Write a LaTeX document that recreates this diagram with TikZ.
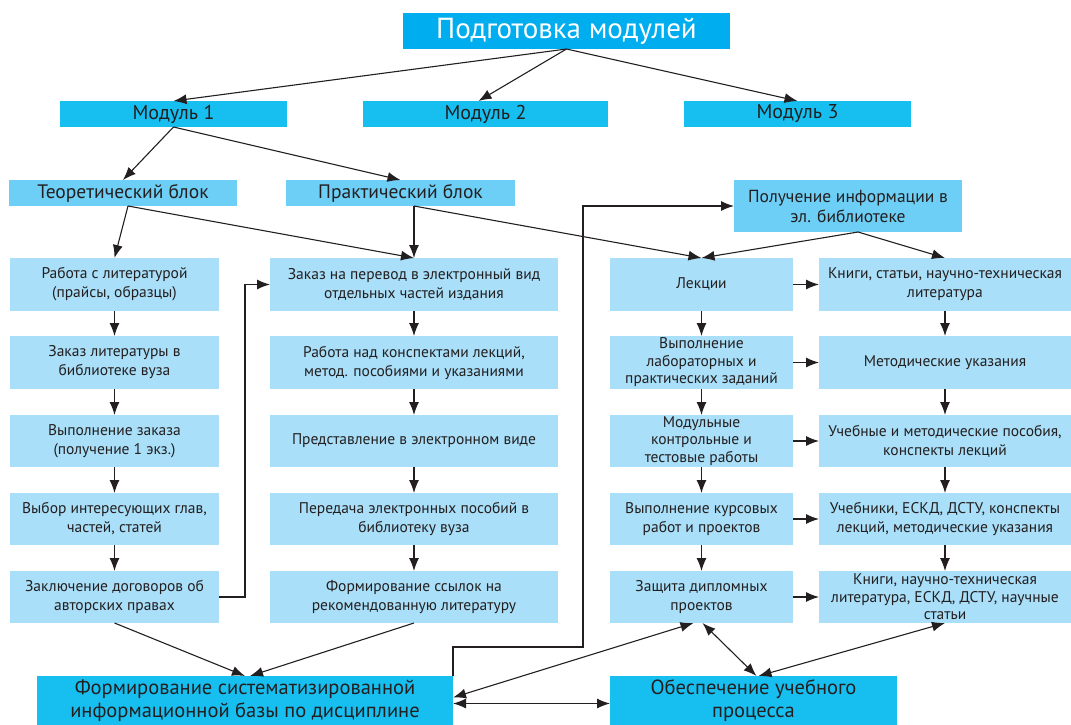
\documentclass[tikz,border=0pt]{standalone}
\usepackage{fontspec}
\setmainfont{PT Sans}
\usetikzlibrary{arrows.meta,calc}
\definecolor{cTitle}{HTML}{00AEEF}
\definecolor{cMod}{HTML}{17BFF0}
\definecolor{cBlock}{HTML}{6DCFF6}
\definecolor{cStep}{HTML}{A9DFF8}
\definecolor{cInk}{HTML}{231F20}
\newcommand\mybox[7]{\node[#1, anchor=north west, minimum width={(#4)-(#2)}, minimum height={(#5)-(#3)}] (#6) at (#2,#3) {#7};}
\begin{document}
\begin{tikzpicture}[x=1pt,y=-1pt,
  basebox/.style={inner sep=0pt, outer sep=0pt, align=center, text=cInk},
  titlebox/.style={basebox, fill=cTitle, text=white, font=\fontsize{29}{32}\selectfont},
  modbox/.style={basebox, fill=cMod, font=\fontsize{20}{22}\selectfont},
  blockbox/.style={basebox, fill=cBlock, font=\fontsize{19.5}{22}\selectfont},
  infobox/.style={basebox, fill=cBlock, font=\fontsize{17.5}{20}\selectfont},
  stepbox/.style={basebox, fill=cStep, font=\fontsize{15.5}{19}\selectfont},
  widebox/.style={basebox, fill=cStep, font=\fontsize{15.5}{17.5}\selectfont},
  bigbox/.style={basebox, fill=cMod, font=\fontsize{20.5}{23.5}\selectfont},
  arr/.style={draw=cInk, line width=1.1pt, -{Latex[length=13pt,width=10pt]}},
  darr/.style={draw=cInk, line width=1.1pt, {Latex[length=13pt,width=10pt]}-{Latex[length=13pt,width=10pt]}},
  ln/.style={draw=cInk, line width=1.1pt}
]
\useasboundingbox (0,0) rectangle (1071,725);

\mybox{titlebox}{403}{13}{730}{49}{title}{Подготовка модулей}
\mybox{modbox}{60}{101}{287}{127}{m1}{Модуль 1}
\mybox{modbox}{363}{101}{608}{127}{m2}{Модуль 2}
\mybox{modbox}{684}{101}{911}{127}{m3}{Модуль 3}

\mybox{blockbox}{9}{180}{237}{206}{teor}{Теоретический блок}
\mybox{blockbox}{286}{180}{515}{206}{prak}{Практический блок}
\mybox{infobox}{734}{180}{962}{232}{poluch}{Получение информации в\\эл. библиотеке}

% left column
\mybox{stepbox}{10}{258}{219}{311}{L1}{Работа с литературой\\(прайсы, образцы)}
\mybox{stepbox}{10}{336}{219}{389}{L2}{Заказ литературы в\\библиотеке вуза}
\mybox{stepbox}{10}{415}{219}{467}{L3}{Выполнение заказа\\(получение 1 экз.)}
\mybox{stepbox}{10}{493}{219}{545}{L4}{Выбор интересующих глав,\\частей, статей}
\mybox{stepbox}{10}{571}{219}{623}{L5}{Заключение договоров об\\авторских правах}

% middle column
\mybox{stepbox}{270}{258}{558}{311}{M1}{Заказ на перевод в электронный вид\\отдельных частей издания}
\mybox{stepbox}{270}{336}{558}{389}{M2}{Работа над конспектами лекций,\\метод. пособиями и указаниями}
\mybox{stepbox}{270}{415}{558}{467}{M3}{Представление в электронном виде}
\mybox{stepbox}{270}{493}{558}{545}{M4}{Передача электронных пособий в\\библиотеку вуза}
\mybox{stepbox}{270}{571}{558}{623}{M5}{Формирование ссылок на\\рекомендованную литературу}

% right column 1
\mybox{stepbox}{610}{258}{793}{311}{R1}{Лекции}
\mybox{widebox}{610}{336}{793}{389}{R2}{Выполнение\\лабораторных и\\практических заданий}
\mybox{widebox}{610}{415}{793}{467}{R3}{Модульные\\контрольные и\\тестовые работы}
\mybox{stepbox}{610}{493}{793}{545}{R4}{Выполнение курсовых\\работ и проектов}
\mybox{stepbox}{610}{571}{793}{623}{R5}{Защита дипломных\\проектов}

% right column 2
\mybox{stepbox}{819}{258}{1071}{311}{S1}{Книги, статьи, научно-техническая\\литература}
\mybox{stepbox}{819}{336}{1071}{389}{S2}{Методические указания}
\mybox{stepbox}{819}{415}{1071}{467}{S3}{Учебные и методические пособия,\\конспекты лекций}
\mybox{stepbox}{819}{493}{1071}{545}{S4}{Учебники, ЕСКД, ДСТУ, конспекты\\лекций, методические указания}
\mybox{widebox}{819}{571}{1071}{623}{S5}{Книги, научно-техническая\\литература, ЕСКД, ДСТУ, научные\\статьи}

% bottom
\mybox{bigbox}{37}{676}{453}{725}{form}{Формирование систематизированной\\информационной базы по дисциплине}
\mybox{bigbox}{610}{676}{897}{725}{obes}{Обеспечение учебного\\процесса}

% top arrows
\draw[arr] (title.south) -- (m1.north);
\draw[arr] (title.south) -- ($(m2.north)+(-7,0)$);
\draw[arr] (title.south) -- (m3.north);
\draw[arr] (m1.south) -- (teor.north);
\draw[arr] (m1.south) -- (prak.north);

% block arrows
\coordinate (ts) at ($(teor.south)+(5,0)$);
\coordinate (ps) at (M1.north |- prak.south);
\coordinate (qs) at ($(poluch.south)+(10,0)$);
\draw[arr] (ts) -- (L1.north);
\draw[arr] (ts) -- (M1.north);
\draw[arr] (ps) -- (M1.north);
\draw[arr] (ps) -- (R1.north);
\draw[arr] (qs) -- (R1.north);
\draw[arr] (qs) -- (S1.north);

% column arrows
\foreach \c in {L,M,R,S}{
  \draw[arr] (\c1.south) -- (\c2.north);
  \draw[arr] (\c2.south) -- (\c3.north);
  \draw[arr] (\c3.south) -- (\c4.north);
  \draw[arr] (\c4.south) -- (\c5.north);
}
\foreach \r in {1,...,5}{
  \draw[arr] (R\r.east) -- (S\r.west);
}

% loops
\draw[arr] (L5.east) -- ++(26,0) |- (M1.west);
\draw[arr] (form.north east) -- ++(0,-29) -- ++(130,0) |- (poluch.west);

% to bottom
\draw[arr] (L5.south) -- (form.north);
\draw[arr] (M5.south) -- ($(form.north)+(5,0)$);
\draw[darr] ($(form.east)+(0,-3)$) -- ($(R5.south)+(-8,0)$);
\draw[darr] ($(form.east)+(0,3)$) -- ($(obes.west)+(0,3)$);
\draw[darr] ($(R5.south)+(1,0)$) -- ($(obes.north)+(3,0)$);
\draw[darr] (S5.south) -- ($(obes.north)+(5,0)$);
\end{tikzpicture}
\end{document}
